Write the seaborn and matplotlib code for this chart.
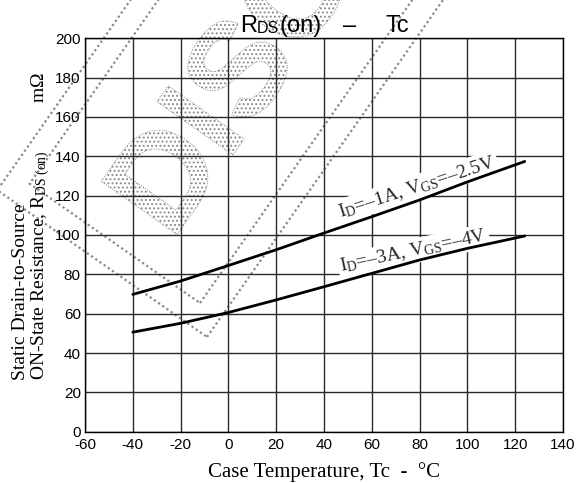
import matplotlib
matplotlib.use("Agg")
import matplotlib.pyplot as plt
import matplotlib.patheffects as pe
from matplotlib.patches import Rectangle
from matplotlib.transforms import IdentityTransform
import pandas as pd
import seaborn as sns

# Case temperature (deg C) and on-resistance (mOhm) for the two bias conditions
temp_c = [-40, -20, 0, 20, 40, 60, 80, 100, 124]
rds_low_id = [69.8, 76.6, 84.5, 92.5, 101.0, 109.3, 117.8, 127.0, 137.4]
rds_high_id = [50.6, 55.1, 60.6, 67.0, 73.7, 80.5, 87.3, 93.2, 99.5]
series_keys = ["ID=-1A, VGS=-2.5V", "ID=-3A, VGS=-4V"]
series_text = [r"I$_\mathrm{D}$=–1A, V$_\mathrm{GS}$=–2.5V",
               r"I$_\mathrm{D}$=–3A, V$_\mathrm{GS}$=–4V"]

x_ticks = list(range(-60, 141, 20))
y_ticks = list(range(0, 201, 20))

SERIF = ["Liberation Serif", "DejaVu Serif"]
SANS = ["Liberation Sans", "DejaVu Sans"]

sns.set_theme(style="white")
plt.rcParams["font.family"] = SANS
plt.rcParams["axes.unicode_minus"] = False
plt.rcParams["mathtext.fontset"] = "custom"
plt.rcParams["mathtext.rm"] = "Liberation Serif"
plt.rcParams["mathtext.it"] = "Liberation Serif:italic"
plt.rcParams["hatch.linewidth"] = 0.9

df = pd.DataFrame({
    "Tc": temp_c * 2,
    "Rds": rds_low_id + rds_high_id,
    "bias": [series_keys[0]] * len(temp_c) + [series_keys[1]] * len(temp_c),
})

W, H = 577, 483
fig = plt.figure(figsize=(W / 100, H / 100), dpi=100)
fig.patch.set_facecolor("white")
ax = fig.add_axes([85 / W, (H - 431.7) / H, 478 / W, 393.4 / H])
ax.set_facecolor("none")

# faint stamp behind the plot
stamp_col = "#8a8a8a"
ident = IdentityTransform()
for (bx, by), w, h in [((207, H - 337), 900, 256), ((200, H - 303), 880, 208)]:
    fig.patches.append(Rectangle((bx, by), w, h, angle=55, transform=ident,
                                 fill=False, edgecolor=stamp_col, lw=1.6,
                                 linestyle=(0, (1, 1.3)), zorder=-2))
fig.text(172, H - 242, "DISC", transform=ident, rotation=55,
         rotation_mode="anchor", ha="left", va="baseline", fontsize=97,
         fontweight="bold", family=SANS, zorder=-2,
         path_effects=[pe.PathPatchEffect(hatch="....", facecolor="none",
                                          edgecolor=stamp_col, linewidth=0.7,
                                          linestyle=(0, (1, 1.5)))])

sns.lineplot(data=df, x="Tc", y="Rds", hue="bias", hue_order=series_keys,
             palette=["black", "black"], linewidth=2.0, legend=False,
             ax=ax, zorder=4)

ax.set_xlim(-60, 140)
ax.set_ylim(0, 200)
ax.set_xticks(x_ticks)
ax.set_yticks(y_ticks)
ax.grid(True, color="#2a2a2a", linewidth=1.0)
ax.set_axisbelow(True)
for s in ax.spines.values():
    s.set_color("black")
    s.set_linewidth(1.0)
ax.tick_params(length=0, labelsize=11, colors="black")
ax.tick_params(axis="y", pad=3)
ax.tick_params(axis="x", pad=4.5)
for lab in ax.get_xticklabels() + ax.get_yticklabels():
    lab.set_family(SANS)

# curve annotations
for txt, (lx, ly), rot in zip(series_text, [(79, 124.5), (77.5, 91.8)], [18, 12]):
    ax.text(lx, ly, txt, rotation=rot, rotation_mode="anchor", ha="center",
            va="center", fontsize=14, family=SERIF, zorder=3,
            bbox=dict(boxstyle="square,pad=0.12", fc="white", ec="none"))

ax.set_xlabel("Case Temperature, Tc  -  °C", fontsize=15, family=SERIF,
              labelpad=7, color="black")
ax.set_ylabel("Static Drain-to-Source\n"
              r"ON-State Resistance, R$_\mathrm{DS\ (on)}$          mΩ",
              fontsize=14, family=SERIF, ha="left", multialignment="left",
              color="black", linespacing=1.05)
ax.yaxis.set_label_coords(-0.069, (431.7 - 380) / 393.4)

# title built from pieces so the subscript sits close to the baseline
renderer = fig.canvas.get_renderer()
tkw = dict(transform=ident, va="baseline", ha="left", family=SANS, color="black")
base = H - 31.7
x = 240
t = fig.text(x, base, "R", fontsize=17, **tkw)
x += t.get_window_extent(renderer).width
t = fig.text(x, base - 1, "DS", fontsize=11.5, **tkw)
x += t.get_window_extent(renderer).width
fig.text(x, base, "(on)", fontsize=17, **tkw)
fig.text(343, base, "–", fontsize=17, **tkw)
fig.text(385, base, "Tc", fontsize=17, **tkw)

fig.savefig("out.png", dpi=100)
